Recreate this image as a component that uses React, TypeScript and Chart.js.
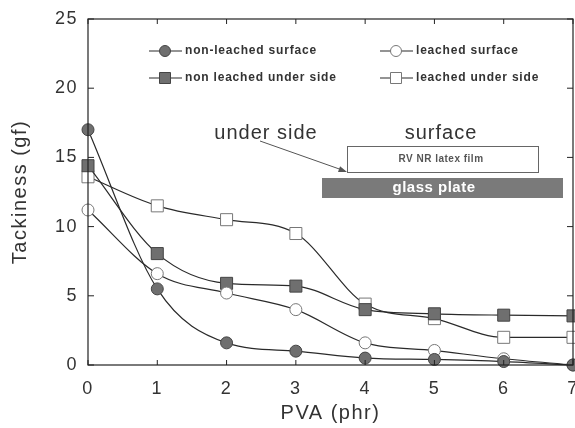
import React, { useEffect, useRef } from "react";
import { Chart, registerables } from "chart.js";
Chart.register(...registerables);

const pva = [0, 1, 2, 3, 4, 5, 6, 7];
const nonLeachedSurface = [17.0, 5.5, 1.6, 1.0, 0.5, 0.4, 0.25, 0.0];
const leachedSurface = [11.2, 6.6, 5.2, 4.0, 1.6, 1.05, 0.45, 0.0];
const nonLeachedUnder = [14.4, 8.05, 5.9, 5.7, 4.0, 3.7, 3.6, 3.55];
const leachedUnder = [13.6, 11.5, 10.5, 9.5, 4.4, 3.35, 2.0, 2.0];
const seriesLabels = ["non-leached surface", "leached surface", "non leached under side", "leached under side"];
const xTickValues = [0, 1, 2, 3, 4, 5, 6, 7];
const yTickValues = [0, 5, 10, 15, 20, 25];
const xTitle = "PVA (phr)";
const yTitle = "Tackiness (gf)";
const annoUnder = "under side";
const annoSurface = "surface";
const annoFilm = "RV NR latex film";
const annoGlass = "glass plate";

const FONT = "'Liberation Sans', Arial, sans-serif";
const LINE = "#2a2a2a";
const FILL = "#6f6f6f";

type Kind = { shape: "circle" | "rect"; filled: boolean };
const kinds: Kind[] = [
  { shape: "circle", filled: true },
  { shape: "circle", filled: false },
  { shape: "rect", filled: true },
  { shape: "rect", filled: false },
];

function drawMarker(ctx: CanvasRenderingContext2D, x: number, y: number, k: Kind) {
  ctx.save();
  ctx.beginPath();
  if (k.shape === "circle") ctx.arc(x, y, 5.5, 0, Math.PI * 2);
  else ctx.rect(x - 5.5, y - 5.5, 11, 11);
  ctx.fillStyle = k.filled ? FILL : "#fff";
  ctx.fill();
  ctx.lineWidth = 1;
  ctx.strokeStyle = k.filled ? "#444" : "#777";
  ctx.stroke();
  ctx.restore();
}

const decorPlugin = {
  id: "decor",
  beforeDraw(chart: any) {
    (chart.ctx as any).letterSpacing = "1.5px";
  },
  afterDraw(chart: any) {
    const ctx: CanvasRenderingContext2D = chart.ctx;
    (ctx as any).letterSpacing = "0px";
    const { left, right, top, bottom } = chart.chartArea;
    const xs = chart.scales.x;
    const ys = chart.scales.y;
    ctx.save();
    // frame
    ctx.strokeStyle = "#222";
    ctx.lineWidth = 1.2;
    ctx.strokeRect(left, top, right - left, bottom - top);
    // inward ticks
    ctx.lineWidth = 1;
    ctx.beginPath();
    xTickValues.forEach((v) => {
      const px = xs.getPixelForValue(v);
      ctx.moveTo(px, bottom);
      ctx.lineTo(px, bottom - 5);
      ctx.moveTo(px, top);
      ctx.lineTo(px, top + 5);
    });
    yTickValues.forEach((v) => {
      const py = ys.getPixelForValue(v);
      ctx.moveTo(left, py);
      ctx.lineTo(left + 6, py);
      ctx.moveTo(right, py);
      ctx.lineTo(right - 6, py);
    });
    ctx.stroke();

    // legend
    const rows = [51, 78];
    const cols = [149, 380];
    seriesLabels.forEach((lab, i) => {
      const cx = cols[i % 2];
      const cy = rows[Math.floor(i / 2)];
      ctx.strokeStyle = LINE;
      ctx.lineWidth = 1.2;
      ctx.beginPath();
      ctx.moveTo(cx, cy);
      ctx.lineTo(cx + 33, cy);
      ctx.stroke();
      drawMarker(ctx, cx + 16, cy, kinds[i]);
      ctx.fillStyle = "#333";
      ctx.font = `bold 12px ${FONT}`;
      (ctx as any).letterSpacing = "0.8px";
      ctx.textAlign = "left";
      ctx.textBaseline = "middle";
      ctx.fillText(lab, cx + 36, cy);
    });

    // annotations
    ctx.fillStyle = "#333";
    ctx.font = `20px ${FONT}`;
    (ctx as any).letterSpacing = "1px";
    ctx.textAlign = "center";
    ctx.textBaseline = "middle";
    ctx.fillText(annoUnder, 266, 133);
    ctx.fillText(annoSurface, 441, 133);
    // film box
    ctx.strokeStyle = "#666";
    ctx.lineWidth = 1;
    ctx.strokeRect(347.5, 146.5, 191, 26);
    ctx.font = `bold 10px ${FONT}`;
    (ctx as any).letterSpacing = "0.5px";
    ctx.fillStyle = "#555";
    ctx.fillText(annoFilm, 441, 159);
    // glass plate
    ctx.fillStyle = "#7a7a7a";
    ctx.fillRect(322, 178, 241, 20);
    ctx.fillStyle = "#fff";
    ctx.font = `bold 15px ${FONT}`;
    (ctx as any).letterSpacing = "0.5px";
    ctx.fillText(annoGlass, 434, 188);
    (ctx as any).letterSpacing = "0px";
    // arrow
    ctx.strokeStyle = "#555";
    ctx.lineWidth = 1;
    ctx.beginPath();
    ctx.moveTo(260, 141);
    ctx.lineTo(345, 171);
    ctx.stroke();
    const ang = Math.atan2(171 - 141, 345 - 260);
    ctx.beginPath();
    ctx.moveTo(347, 172);
    ctx.lineTo(347 - 9 * Math.cos(ang - 0.35), 172 - 9 * Math.sin(ang - 0.35));
    ctx.lineTo(347 - 9 * Math.cos(ang + 0.35), 172 - 9 * Math.sin(ang + 0.35));
    ctx.closePath();
    ctx.fillStyle = "#555";
    ctx.fill();
    ctx.restore();
  },
};

export default function App() {
  const ref = useRef<HTMLCanvasElement>(null);
  useEffect(() => {
    document.body.style.margin = "0";
    const series = [nonLeachedSurface, leachedSurface, nonLeachedUnder, leachedUnder];
    const datasets = series.map((vals, i) => ({
      label: seriesLabels[i],
      data: pva.map((x, j) => ({ x, y: vals[j] })),
      borderColor: LINE,
      borderWidth: 1.2,
      cubicInterpolationMode: "monotone" as const,
      pointStyle: kinds[i].shape === "circle" ? "circle" : "rect",
      pointRadius: kinds[i].shape === "circle" ? 6 : 8.5,
      pointBackgroundColor: kinds[i].filled ? FILL : "#fff",
      pointBorderColor: kinds[i].filled ? "#444" : "#777",
      pointBorderWidth: 1,
      clip: false as any,
      fill: false,
    }));
    const chart = new Chart(ref.current!, {
      type: "line",
      data: { datasets },
      options: {
        animation: false,
        responsive: false,
        devicePixelRatio: 1,
        layout: { autoPadding: false, padding: { left: 0, right: 2, top: 19, bottom: 0 } },
        plugins: { legend: { display: false }, tooltip: { enabled: false } },
        scales: {
          x: {
            type: "linear",
            min: 0,
            max: 7,
            afterFit: (s: any) => { s.height = 63; s.paddingRight = 0; s.paddingLeft = 0; },
            afterBuildTicks: (s: any) => { s.ticks = xTickValues.map((v) => ({ value: v })); },
            grid: { display: false, drawTicks: false },
            border: { display: false },
            ticks: { padding: 13, color: "#333", font: { family: FONT, size: 18 } },
            title: { display: true, text: xTitle, color: "#333", font: { family: FONT, size: 20 }, padding: { top: 0, bottom: 3 } },
          },
          y: {
            type: "linear",
            min: 0,
            max: 25,
            afterFit: (s: any) => { s.width = 88; s.paddingTop = 0; s.paddingBottom = 0; },
            afterBuildTicks: (s: any) => { s.ticks = yTickValues.map((v) => ({ value: v })); },
            grid: { display: false, drawTicks: false },
            border: { display: false },
            ticks: { padding: 10, color: "#333", font: { family: FONT, size: 18 } },
            title: { display: true, text: yTitle, color: "#333", font: { family: FONT, size: 20 }, padding: { top: 8, bottom: 0 } },
          },
        },
      },
      plugins: [decorPlugin],
    } as any);
    return () => chart.destroy();
  }, []);
  return (
    <div style={{ width: 575, height: 428 }}>
      <canvas ref={ref} width={575} height={428} style={{ display: "block" }} />
    </div>
  );
}
